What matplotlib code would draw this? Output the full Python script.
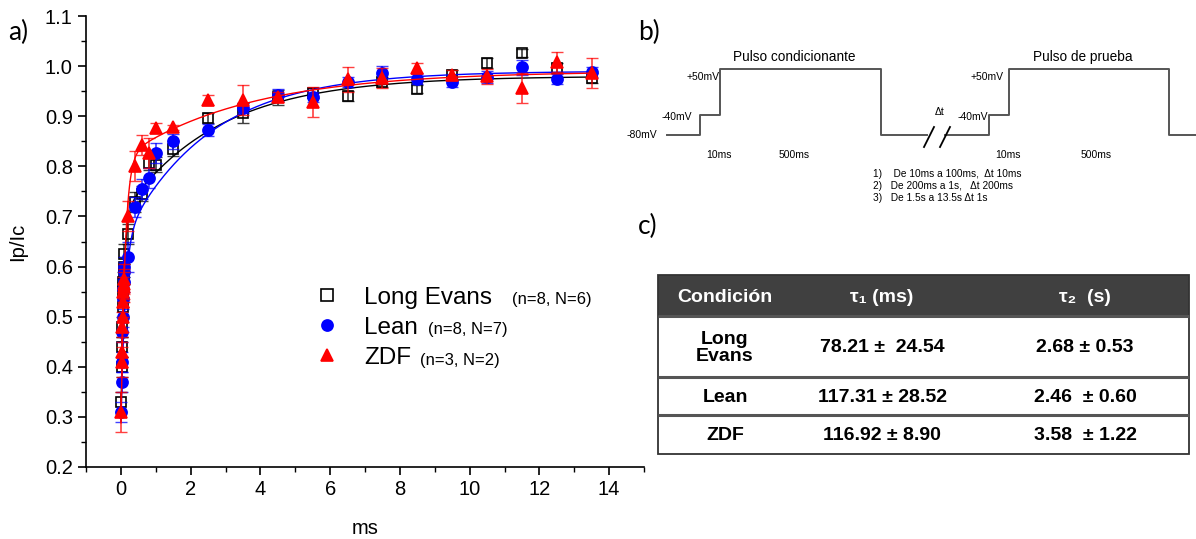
import numpy as np
import matplotlib.pyplot as plt
from matplotlib.patches import Rectangle

plt.rcParams['font.family'] = ['Liberation Sans', 'DejaVu Sans']

# recovery intervals (s)
t = [0.01, 0.02, 0.03, 0.04, 0.05, 0.06, 0.07, 0.08, 0.09, 0.1,
     0.2, 0.4, 0.6, 0.8, 1.0,
     1.5, 2.5, 3.5, 4.5, 5.5, 6.5, 7.5, 8.5, 9.5, 10.5, 11.5, 12.5, 13.5]

le_y = [0.33, 0.40, 0.44, 0.48, 0.52, 0.55, 0.57, 0.585, 0.60, 0.625,
        0.665, 0.728, 0.745, 0.807, 0.803,
        0.835, 0.896, 0.906, 0.938, 0.946, 0.94, 0.968, 0.954, 0.982, 1.006, 1.026, 0.996, 0.976]
le_err = [0.02, 0.02, 0.02, 0.02, 0.02, 0.02, 0.02, 0.02, 0.02, 0.02,
          0.02, 0.02, 0.015, 0.015, 0.015,
          0.015, 0.01, 0.02, 0.015, 0.01, 0.01, 0.01, 0.008, 0.01, 0.01, 0.008, 0.01, 0.01]

lean_y = [0.31, 0.37, 0.41, 0.47, 0.50, 0.535, 0.555, 0.57, 0.59, 0.60,
          0.62, 0.718, 0.755, 0.777, 0.827,
          0.85, 0.872, 0.916, 0.942, 0.938, 0.968, 0.986, 0.974, 0.968, 0.978, 0.998, 0.974, 0.988]
lean_err = [0.02, 0.02, 0.02, 0.02, 0.02, 0.02, 0.02, 0.02, 0.02, 0.02,
            0.03, 0.02, 0.02, 0.02, 0.02,
            0.015, 0.012, 0.01, 0.012, 0.01, 0.01, 0.015, 0.01, 0.01, 0.012, 0.015, 0.01, 0.01]

zdf_y = [0.31, 0.41, 0.43, 0.48, 0.50, 0.53, 0.55, 0.56, 0.565, 0.575,
         0.70, 0.80, 0.842, 0.826, 0.876,
         0.878, 0.932, 0.932, 0.938, 0.928, 0.974, 0.976, 0.996, 0.982, 0.98, 0.956, 1.008, 0.986]
zdf_err = [0.04, 0.03, 0.03, 0.03, 0.03, 0.03, 0.03, 0.03, 0.03, 0.03,
           0.03, 0.03, 0.02, 0.03, 0.01,
           0.005, 0.01, 0.03, 0.01, 0.03, 0.025, 0.02, 0.01, 0.01, 0.015, 0.03, 0.02, 0.03]

# double exponential fit parameters: y_inf, a1, tau1 (s), a2, tau2 (s)
le_fit = [0.98, 0.42, 0.0782, 0.28, 2.68]
lean_fit = [0.99, 0.366, 0.1173, 0.345, 2.46]
zdf_fit = [0.99, 0.55, 0.1169, 0.175, 3.58]

groups = ['Long Evans', 'Lean', 'ZDF']
group_n = ['(n=8, N=6)', '(n=8, N=7)', '(n=3, N=2)']

conditions = ['Long\nEvans', 'Lean', 'ZDF']
tau1_txt = ['78.21 \u00b1  24.54', '117.31 \u00b1 28.52', '116.92 \u00b1 8.90']
tau2_txt = ['2.68 \u00b1 0.53', '2.46  \u00b1 0.60', '3.58  \u00b1 1.22']

# protocol levels (mV)
levels = [-80, -40, 50, -80]


def recovery(x, p):
    return p[0] - p[1] * np.exp(-x / p[2]) - p[3] * np.exp(-x / p[4])


W, H = 1196, 539
fig = plt.figure(figsize=(W / 100, H / 100), dpi=100)


def fx(px):
    return px / W


def fy(py):
    return 1 - py / H


# ---- panel a
ax = fig.add_axes([fx(86), fy(467), fx(644 - 86), (467 - 16) / H])
tt = np.linspace(0.005, 13.5, 2000)
series = [(le_y, le_err, le_fit, 'black', 's', 'none', 7),
          (lean_y, lean_err, lean_fit, '#0000ff', 'o', '#0000ff', 8),
          (zdf_y, zdf_err, zdf_fit, '#ff0000', '^', '#ff0000', 9)]
handles = []
for y, e, p, c, m, mfc, ms in series:
    ax.plot(tt, recovery(tt, p), color=c, lw=1)
    ax.errorbar(t, y, yerr=e, fmt='none', ecolor=c, elinewidth=1.2, capsize=4, alpha=0.75)
    h, = ax.plot(t, y, linestyle='none', marker=m, color=c, mfc=mfc, mec=c, ms=ms, mew=1.2)
    handles.append(h)

ax.set_xlim(-1, 15)
ax.set_ylim(0.2, 1.1)
ax.set_xticks(range(0, 15, 2))
ax.set_xticks(range(-1, 16), minor=True)
ax.set_yticks(np.arange(0.2, 1.11, 0.1))
ax.set_yticks(np.arange(0.2, 1.11, 0.05), minor=True)
ax.set_yticklabels(['%.1f' % v for v in np.arange(0.2, 1.11, 0.1)])
ax.spines['top'].set_visible(False)
ax.spines['right'].set_visible(False)
ax.tick_params(which='major', direction='out', length=6, width=1.2, labelsize=14.5)
ax.tick_params(which='minor', direction='out', length=3.5, width=1)
for s in ['left', 'bottom']:
    ax.spines[s].set_linewidth(1.2)
ax.set_xlabel('ms', fontsize=14.5, labelpad=14)
ax.set_ylabel('Ip/Ic', fontsize=14.5, labelpad=13)

leg = ax.legend(handles, groups, loc='upper left',
                bbox_to_anchor=((291 - 86) / 558, (467 - 265) / 451), frameon=False,
                fontsize=17.5, handletextpad=0.9, labelspacing=0.33, handlelength=1.2)
for h in leg.legend_handles:
    h.set_markersize(8)
for x0, y0, s in zip([512, 428, 420], [304, 334, 365], group_n):
    fig.text(fx(x0), fy(y0), s, fontsize=12, va='baseline')

fig.text(fx(8), fy(32), 'a)', fontsize=19, family='Lato', va='center')
fig.text(fx(638), fy(32), 'b)', fontsize=19, family='Lato', va='center')
fig.text(fx(638), fy(226), 'c)', fontsize=19, family='Lato', va='center')

# ---- panel b: protocol scheme (pixel-like units, y in mV mapped to px)
axb = fig.add_axes([fx(620), fy(215), fx(1196 - 620), 170 / H])
axb.set_xlim(620, 1196)
axb.set_ylim(215, 45)
axb.axis('off')
gray = '#555555'


def lvl(v):
    return 135 - (v + 80) * 0.5 if v < 0 else 69


xs1 = [667, 700, 700, 720, 720, 881, 881, 927]
ys1 = [lvl(levels[0]), lvl(levels[0]), lvl(levels[1]), lvl(levels[1]),
       lvl(levels[2]), lvl(levels[2]), lvl(levels[3]), lvl(levels[3])]
xs2 = [945, 989, 989, 1009, 1009, 1169, 1169, 1196]
axb.plot(xs1, ys1, color=gray, lw=1.4)
axb.plot(xs2, ys1, color=gray, lw=1.4)
axb.plot([924, 934], [147, 127], color='black', lw=1.3)
axb.plot([940, 950], [147, 127], color='black', lw=1.3)
sm = 7.5
axb.text(794, 57, 'Pulso condicionante', fontsize=9.8, ha='center', va='center')
axb.text(1083, 57, 'Pulso de prueba', fontsize=9.8, ha='center', va='center')
for x0, lab, y0 in [(720, '+50mV', 77), (692, '-40mV', 117), (657, '-80mV', 135),
                    (1004, '+50mV', 77), (988, '-40mV', 117)]:
    axb.text(x0, y0, lab, fontsize=sm, ha='right', va='center')
axb.text(940, 112, '\u0394t', fontsize=sm, ha='center', va='center')
for x0, lab in [(719, '10ms'), (794, '500ms'), (1008, '10ms'), (1096, '500ms')]:
    axb.text(x0, 155, lab, fontsize=sm, ha='center', va='center')
notes = ['1)    De 10ms a 100ms,  \u0394t 10ms',
         '2)   De 200ms a 1s,   \u0394t 200ms',
         '3)   De 1.5s a 13.5s \u0394t 1s']
for i, n in enumerate(notes):
    axb.text(873, 174 + 12 * i, n, fontsize=7.3, va='center')

# ---- panel c: table
axc = fig.add_axes([fx(650), fy(460), fx(546), 200 / H])
axc.set_xlim(650, 1196)
axc.set_ylim(460, 260)
axc.axis('off')
axc.add_patch(Rectangle((658, 275), 531, 41, facecolor='#404040', edgecolor='none'))
axc.add_patch(Rectangle((658, 275), 531, 179, facecolor='none', edgecolor='#333333', lw=1.3))
for yl in [316, 377, 415]:
    axc.plot([658, 1189], [yl, yl], color='#555555', lw=2.2, solid_capstyle='butt')
cx = [725, 882, 1085]
hdr = ['Condici\u00f3n', '\u03c4\u2081 (ms)', '\u03c4\u2082  (s)']
for x0, h in zip(cx, hdr):
    axc.text(x0, 297, h, color='white', fontsize=14, weight='bold', ha='center', va='center')
rows_y = [348, 397, 436]
for yy, c, a, b in zip(rows_y, conditions, tau1_txt, tau2_txt):
    axc.text(cx[0], yy, c, fontsize=14, weight='bold', ha='center', va='center', linespacing=1.05)
    axc.text(cx[1], yy, a, fontsize=14, weight='bold', ha='center', va='center')
    axc.text(cx[2], yy, b, fontsize=14, weight='bold', ha='center', va='center')

fig.savefig('out.png', dpi=100)
